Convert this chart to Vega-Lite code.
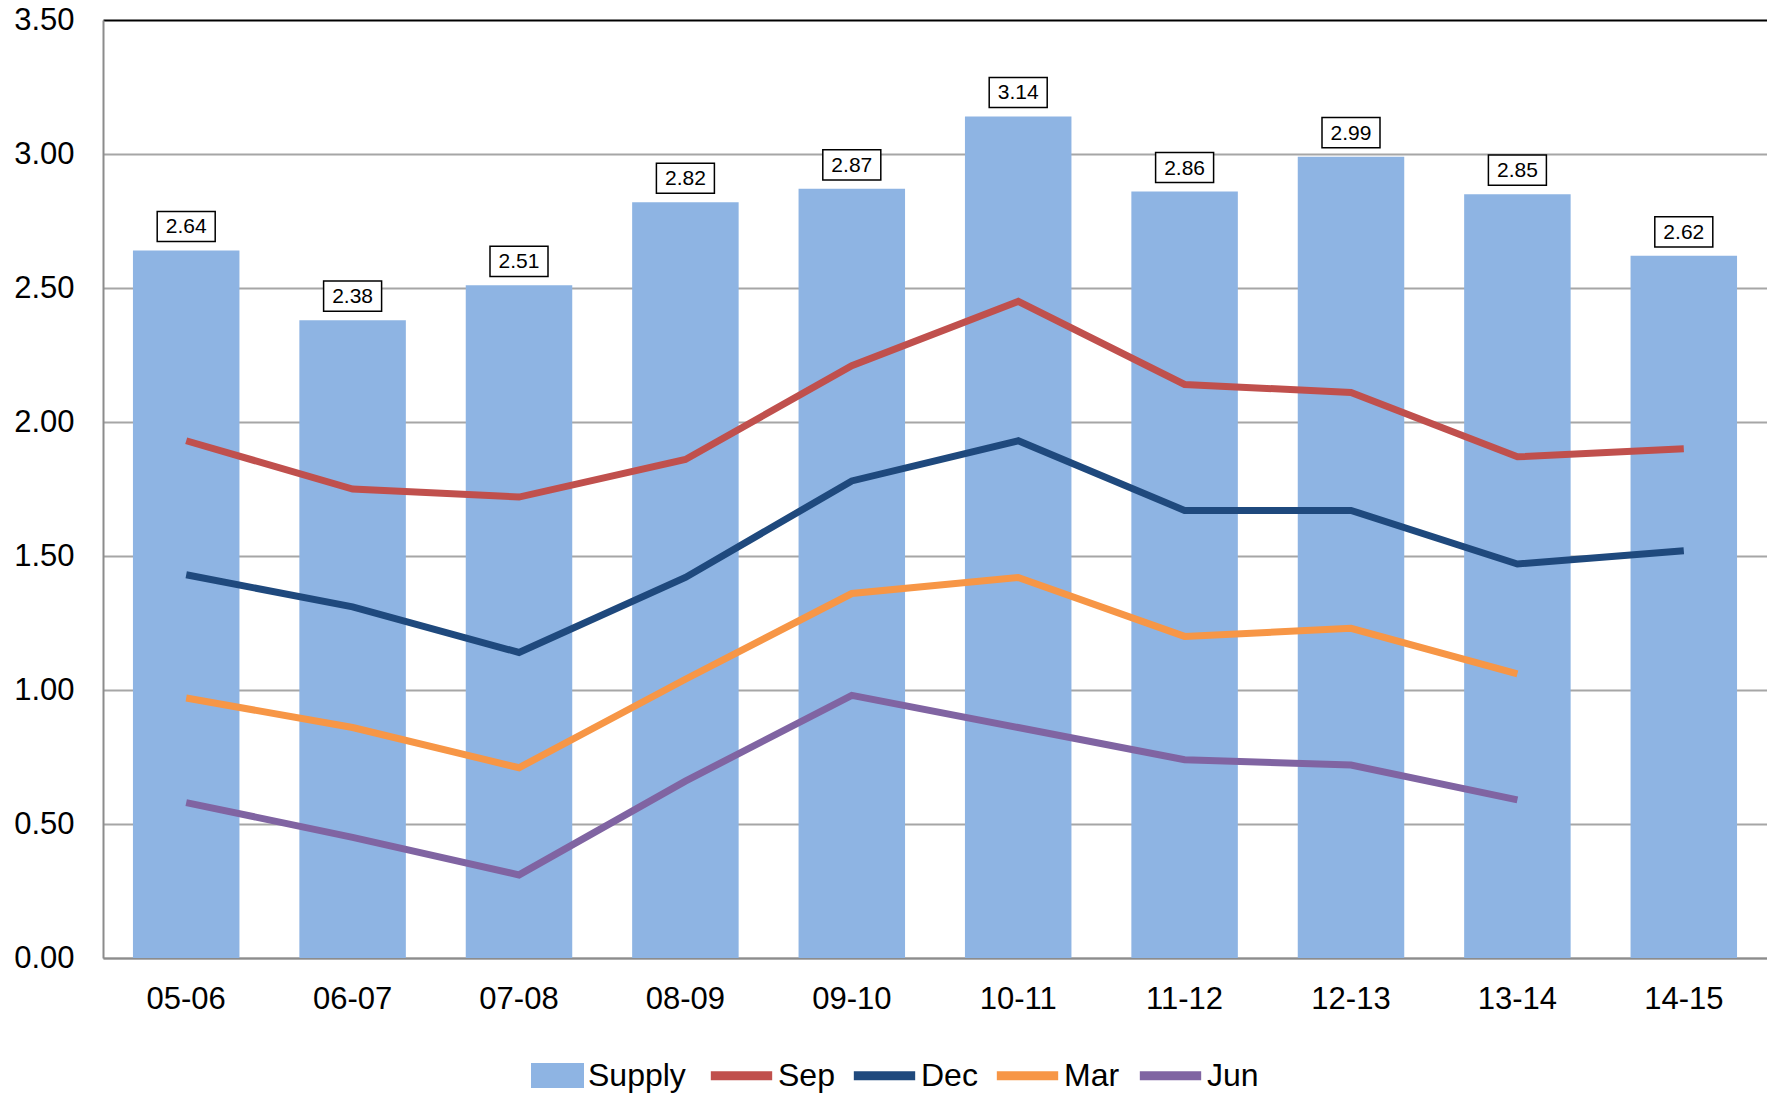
{
  "$schema": "https://vega.github.io/schema/vega-lite/v6.json",
  "autosize": "none",
  "padding": {"left": 103, "top": 20, "right": 0, "bottom": 135},
  "width": 1664,
  "height": 938,
  "config": {
    "view": {"stroke": null},
    "font": "Liberation Sans",
    "axis": {"labelFont": "Liberation Sans", "labelColor": "#000000", "title": null}
  },
  "datasets": {
    "supply": [
      {"year": "05-06", "supply": 2.64},
      {"year": "06-07", "supply": 2.38},
      {"year": "07-08", "supply": 2.51},
      {"year": "08-09", "supply": 2.82},
      {"year": "09-10", "supply": 2.87},
      {"year": "10-11", "supply": 3.14},
      {"year": "11-12", "supply": 2.86},
      {"year": "12-13", "supply": 2.99},
      {"year": "13-14", "supply": 2.85},
      {"year": "14-15", "supply": 2.62}
    ],
    "months": [
      {"year": "05-06", "month": "Sep", "value": 1.93},
      {"year": "06-07", "month": "Sep", "value": 1.75},
      {"year": "07-08", "month": "Sep", "value": 1.72},
      {"year": "08-09", "month": "Sep", "value": 1.86},
      {"year": "09-10", "month": "Sep", "value": 2.21},
      {"year": "10-11", "month": "Sep", "value": 2.45},
      {"year": "11-12", "month": "Sep", "value": 2.14},
      {"year": "12-13", "month": "Sep", "value": 2.11},
      {"year": "13-14", "month": "Sep", "value": 1.87},
      {"year": "14-15", "month": "Sep", "value": 1.9},
      {"year": "05-06", "month": "Dec", "value": 1.43},
      {"year": "06-07", "month": "Dec", "value": 1.31},
      {"year": "07-08", "month": "Dec", "value": 1.14},
      {"year": "08-09", "month": "Dec", "value": 1.42},
      {"year": "09-10", "month": "Dec", "value": 1.78},
      {"year": "10-11", "month": "Dec", "value": 1.93},
      {"year": "11-12", "month": "Dec", "value": 1.67},
      {"year": "12-13", "month": "Dec", "value": 1.67},
      {"year": "13-14", "month": "Dec", "value": 1.47},
      {"year": "14-15", "month": "Dec", "value": 1.52},
      {"year": "05-06", "month": "Mar", "value": 0.97},
      {"year": "06-07", "month": "Mar", "value": 0.86},
      {"year": "07-08", "month": "Mar", "value": 0.71},
      {"year": "08-09", "month": "Mar", "value": 1.04},
      {"year": "09-10", "month": "Mar", "value": 1.36},
      {"year": "10-11", "month": "Mar", "value": 1.42},
      {"year": "11-12", "month": "Mar", "value": 1.2},
      {"year": "12-13", "month": "Mar", "value": 1.23},
      {"year": "13-14", "month": "Mar", "value": 1.06},
      {"year": "05-06", "month": "Jun", "value": 0.58},
      {"year": "06-07", "month": "Jun", "value": 0.45},
      {"year": "07-08", "month": "Jun", "value": 0.31},
      {"year": "08-09", "month": "Jun", "value": 0.66},
      {"year": "09-10", "month": "Jun", "value": 0.98},
      {"year": "10-11", "month": "Jun", "value": 0.86},
      {"year": "11-12", "month": "Jun", "value": 0.74},
      {"year": "12-13", "month": "Jun", "value": 0.72},
      {"year": "13-14", "month": "Jun", "value": 0.59}
    ]
  },
  "encoding": {
    "x": {
      "field": "year",
      "type": "nominal",
      "sort": null,
      "scale": {"paddingInner": 0.36, "paddingOuter": 0.18},
      "axis": {
        "labelAngle": 0,
        "labelFontSize": 31,
        "labelPadding": 26,
        "ticks": false,
        "domainColor": "#8c8c8c",
        "domainWidth": 2
      }
    }
  },
  "layer": [
    {
      "data": {"name": "supply"},
      "mark": {"type": "bar"},
      "encoding": {
        "y": {
          "field": "supply",
          "type": "quantitative",
          "scale": {"domain": [0, 3.5], "nice": false},
          "axis": {
            "values": [0, 0.5, 1, 1.5, 2, 2.5, 3, 3.5],
            "format": ".2f",
            "labelFontSize": 31,
            "labelPadding": 29,
            "ticks": false,
            "domainColor": "#8c8c8c",
            "domainWidth": 2,
            "gridWidth": 2,
            "gridColor": {"condition": {"test": "datum.value == 3.5", "value": "#000000"}, "value": "#a6a6a6"}
          }
        },
        "fill": {
          "datum": "Supply",
          "type": "nominal",
          "scale": {"domain": ["Supply"], "range": ["#8eb4e3"]},
          "legend": {
            "title": null,
            "orient": "none",
            "legendX": 428,
            "legendY": 1029,
            "direction": "horizontal",
            "symbolType": "M-1,-0.47H1V0.47H-1Z",
            "symbolSize": 2809,
            "symbolStrokeWidth": 0,
            "labelFontSize": 32,
            "labelFont": "Liberation Sans",
            "labelColor": "#000000",
            "labelOffset": 4
          }
        }
      }
    },
    {
      "data": {"name": "months"},
      "mark": {"type": "line", "strokeWidth": 7},
      "encoding": {
        "y": {"field": "value", "type": "quantitative"},
        "stroke": {
          "field": "month",
          "type": "nominal",
          "scale": {"domain": ["Sep", "Dec", "Mar", "Jun"], "range": ["#c0504d", "#1f497d", "#f79646", "#8064a2"]},
          "legend": {
            "title": null,
            "orient": "none",
            "legendX": 603,
            "legendY": 1020,
            "direction": "horizontal",
            "symbolType": "stroke",
            "symbolSize": 3765,
            "symbolStrokeWidth": 9,
            "labelFontSize": 32,
            "labelFont": "Liberation Sans",
            "labelColor": "#000000",
            "labelOffset": 1,
            "columnPadding": 0,
            "gridAlign": "all"
          }
        }
      }
    },
    {
      "data": {"name": "supply"},
      "mark": {
        "type": "point",
        "shape": "M-1,-0.52H1V0.52H-1Z",
        "size": 3364,
        "filled": true,
        "fill": "#ffffff",
        "stroke": "#000000",
        "strokeWidth": 1.5,
        "opacity": 1,
        "yOffset": -24
      },
      "encoding": {
        "y": {"field": "supply", "type": "quantitative"}
      }
    },
    {
      "data": {"name": "supply"},
      "mark": {
        "type": "text",
        "fontSize": 21,
        "font": "Liberation Sans",
        "color": "#000000",
        "baseline": "middle",
        "yOffset": -23
      },
      "encoding": {
        "y": {"field": "supply", "type": "quantitative"},
        "text": {"field": "supply", "type": "quantitative", "format": ".2f"}
      }
    }
  ]
}
